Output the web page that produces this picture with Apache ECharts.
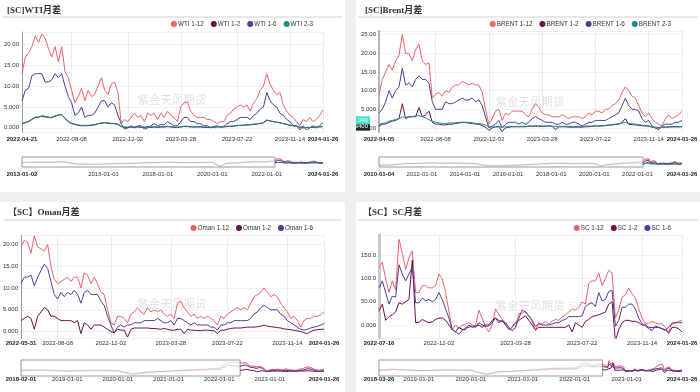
<!DOCTYPE html>
<html><head><meta charset="utf-8">
<script src="https://cdn.jsdelivr.net/npm/echarts@6/dist/echarts.min.js"></script>
<style>
html,body{margin:0;padding:0;background:#efefef;width:700px;height:392px;overflow:hidden}
.p{position:absolute;background:#fff}
</style></head><body>
<div id="c1" class="p" style="left:0;top:0;width:345px;height:192px"></div>
<div id="c2" class="p" style="left:356px;top:0;width:344px;height:192px"></div>
<div id="c3" class="p" style="left:0;top:202px;width:345px;height:190px"></div>
<div id="c4" class="p" style="left:356px;top:202px;width:344px;height:190px"></div>
<script>
// ---------------- WTI ----------------
const wtiDates = ["2022-04-21","2022-04-28","2022-05-06","2022-05-13","2022-05-20","2022-05-27","2022-06-03","2022-06-10","2022-06-17","2022-06-24",
"2022-07-01","2022-07-08","2022-07-15","2022-07-22","2022-07-29","2022-08-08","2022-08-15","2022-08-22","2022-08-29","2022-09-05",
"2022-09-12","2022-09-19","2022-09-26","2022-10-03","2022-10-10","2022-10-17","2022-10-24","2022-10-31","2022-11-07","2022-11-14",
"2022-11-21","2022-11-28","2022-12-02","2022-12-09","2022-12-16","2022-12-23","2022-12-30","2023-01-06","2023-01-13","2023-01-20",
"2023-01-27","2023-02-03","2023-02-10","2023-02-17","2023-02-24","2023-03-03","2023-03-10","2023-03-20","2023-03-28","2023-04-04",
"2023-04-11","2023-04-18","2023-04-25","2023-05-02","2023-05-09","2023-05-16","2023-05-23","2023-05-30","2023-06-06","2023-06-13",
"2023-06-20","2023-06-27","2023-07-03","2023-07-08","2023-07-15","2023-07-22","2023-07-29","2023-08-05","2023-08-12","2023-08-19",
"2023-08-26","2023-09-02","2023-09-09","2023-09-16","2023-09-23","2023-09-30","2023-10-07","2023-10-14","2023-10-21","2023-10-31",
"2023-11-07","2023-11-14","2023-11-21","2023-11-28","2023-12-05","2023-12-12","2023-12-19","2023-12-26","2024-01-02","2024-01-09",
"2024-01-16","2024-01-26"];
const wtiTicks = ["2022-04-21","2022-08-08","2022-12-02","2023-03-28","2023-07-22","2023-11-14","2024-01-26"];
const wti112 = [13,17,18,19.5,22,20.5,22.5,21.5,19,17,
19.5,15.8,19.5,13.5,12,9,6,7.5,9.5,6.5,
9,7.5,8,10,12,9,8,10.5,11,8.5,
1,2,1.5,2.5,3.5,2.5,3,1.5,3.5,3,
3.5,2,3.5,2.5,4,3,2.5,1.5,5,6,
6.2,4,3,2.5,2.5,2.5,2,2,1.5,1,
1.5,1.5,3,3.5,4.5,5,5.5,5,5.5,4,
6,7,9,10,13,10.5,9,8,8.5,5.5,
4,3,2.5,1.5,0.5,2,1.5,2.5,1.5,2,
3,4.3];
const wti12 = [1,1.2,1.5,2,2.5,2.5,2.8,2.6,2.5,2.4,
2.8,3,3.2,2.2,1.5,1,0.8,0.6,0.5,0.5,
0.5,0.6,0.7,1,1.1,1.2,1.1,1,1,0.8,
0.3,0.1,0.1,0.2,0.1,0.2,0.1,0.1,0.2,0.1,
0.2,0.1,0.2,0.2,0.3,0.2,0.1,0.1,0.2,0.3,
0.3,0.2,0.2,0.2,0.2,0.1,0.1,0.1,0.1,0.2,
0.2,0.2,0.3,0.3,0.4,0.5,0.6,0.6,0.7,0.7,
0.8,0.9,1,1.2,1.8,1.6,1.5,1.3,1.2,1,
0.8,0.6,0.5,0.4,0.1,0,0.1,0.1,0.1,0.2,
0.2,0.3];
const wti16 = [6.5,9,9.5,12.5,13,13,13,11,11,11.5,
13,12,13,10,7.5,6,3,3.5,5,2.5,
3,3,3.5,5,6.5,6.5,5,6,5.5,3,
1,-0.3,0,0.5,0,0.5,0.5,-0.3,0,0.5,
1,0.5,0.8,0.7,1.5,1,0.5,0.5,1.5,2.5,
2.5,1.5,1.5,1,1,0.5,0.5,0,0.3,0.5,
0.2,0.3,1,1.5,1.5,2,2.5,2.5,2.5,2,
3,3.5,4.5,5,8.5,6.5,5.5,5,3.5,3,
2,1.5,0.5,0.5,-0.5,0.5,-0.5,0,0.5,0,
0.5,1.2];
const wti23 = [0.9,1.3,1.6,2.1,2.6,2.6,2.9,2.8,2.6,2.5,
2.9,3.1,3.1,2.3,1.6,1.1,0.9,0.7,0.6,0.6,
0.6,0.7,0.8,1,1.2,1.3,1.2,1.1,1,0.9,
0.4,0.2,0.2,0.2,0.2,0.3,0.2,0.2,0.3,0.2,
0.3,0.2,0.3,0.3,0.3,0.3,0.2,0.2,0.3,0.4,
0.4,0.3,0.3,0.3,0.3,0.2,0.2,0.2,0.2,0.3,
0.3,0.3,0.4,0.4,0.5,0.6,0.6,0.7,0.7,0.8,
0.9,1,1.1,1.3,1.9,1.7,1.5,1.4,1.2,1,
0.9,0.7,0.5,0.4,0.2,0.1,0.1,0.1,0.2,0.2,
0.3,0.3];
const wtiHistDates = ["2013-01-02","2013-07-01","2014-01-02","2014-07-01","2015-01-02","2015-07-01","2016-01-04","2016-07-01","2017-01-03","2017-07-03","2018-01-02","2018-07-02","2019-01-02","2019-07-01","2020-01-02","2020-04-20","2020-07-01","2021-01-04","2021-07-01","2022-01-03"];
const wtiHist112 = [2,6,5,8,-6,-8,-7,-4,-3,1,3,5,2,3,4,-16,-2,2,8,8];
const wtiHist16 = [1,3,2.5,4,-4,-5,-4,-2,-1.5,0.5,2,3,1,1.5,2,-20,-1,0.5,4,5];
const wtiMiniTicks = ["2013-01-02","2016-01-01","2018-01-01","2020-01-01","2022-01-01","2024-01-26"];

// ---------------- BRENT ----------------
const brentDates = ["2022-04-05","2022-04-12","2022-04-20","2022-04-27","2022-05-05","2022-05-12","2022-05-19","2022-05-26","2022-06-02","2022-06-09",
"2022-06-17","2022-06-24","2022-07-01","2022-07-08","2022-07-15","2022-07-22","2022-07-29","2022-08-08","2022-08-15","2022-08-22",
"2022-08-29","2022-09-05","2022-09-12","2022-09-19","2022-09-26","2022-10-03","2022-10-10","2022-10-17","2022-10-24","2022-10-31",
"2022-11-07","2022-11-14","2022-11-23","2022-12-02","2022-12-09","2022-12-16","2022-12-23","2022-12-30","2023-01-06","2023-01-13",
"2023-01-20","2023-01-27","2023-02-03","2023-02-10","2023-02-17","2023-02-24","2023-03-03","2023-03-10","2023-03-20","2023-03-28",
"2023-04-04","2023-04-11","2023-04-18","2023-04-25","2023-05-02","2023-05-09","2023-05-16","2023-05-23","2023-05-30","2023-06-06",
"2023-06-13","2023-06-20","2023-06-27","2023-07-05","2023-07-14","2023-07-22","2023-07-29","2023-08-05","2023-08-12","2023-08-19",
"2023-08-26","2023-09-02","2023-09-09","2023-09-16","2023-09-23","2023-09-30","2023-10-07","2023-10-14","2023-10-21","2023-10-28",
"2023-11-07","2023-11-14","2023-11-21","2023-11-28","2023-12-05","2023-12-12","2023-12-19","2023-12-26","2024-01-02","2024-01-09",
"2024-01-16","2024-01-26"];
const brentTicks = ["2022-04-05","2022-08-08","2022-12-02","2023-03-28","2023-07-22","2023-11-14","2024-01-26"];
const brent112 = [9,13,15,17,15.5,18,19.5,25,20,20,
18,21,22.5,18,17,17.5,8,9,9.5,8.5,
10,9.5,11,11.5,11.5,12.5,12,11.5,12,11.5,
11.5,9.5,5,1,2.5,4.5,5,2,4,3.5,
4.5,4.5,4.5,4.5,3.5,3,5,6.5,5.5,4,
3.5,3.5,3,3,3,3.5,3,2.5,3,3,
3,2.5,3,4,3.5,4.5,4.5,4,5,5,
6,6.5,7.5,9.5,11,10,8.5,8,6,4,
3,4,2.5,1.5,1,0.5,2.5,3.5,2.5,3,
3.5,4.5];
const brent12 = [0.5,1,1,1.5,1.8,2,2.5,6.5,2.5,3,
3,3,5.5,3,3.5,4.5,1.5,1,1,0.8,
0.8,1,1,1.2,1.3,1.5,1.4,1.3,1.2,1,
1,0.6,0.2,-0.7,0,0.3,0.3,-1,0,0.2,
0.3,0.3,0.3,0.3,0.3,0.4,0.5,0.5,0.5,0.4,
0.4,0.5,0.4,-0.5,0.3,0.3,0.3,0.2,0.2,0.2,
0.2,0.2,0.3,0.3,0.4,0.5,0.5,0.5,0.6,0.7,
0.8,0.9,1,1.5,2.5,1,0.9,0.8,0.7,0.6,
0.5,0.5,0.2,0,0,0.2,0.2,0.3,0.3,0.3,
0.3,0.34];
const brent16 = [4,5,7,10,8,10,11,16,11.5,12,
11,13,14,13,13,12,7,5,5,5,
7,6.5,6.5,7,7.5,8,7.5,7.5,8,7,
7.5,6,3,0,0.5,1,2,0,1,1.5,
1.5,1.5,1,1.5,1,1.5,2.5,3,2.5,2,
1.5,1.5,1.5,1,1,1.5,1,1,1.5,1.5,
1,0.5,1,1.5,1.5,2,2,2,2,2.5,
3,3.5,4,6,8,6,5,5,4.5,2.5,
1.5,2,0.5,0,-0.5,0.5,1,1,1,1.5,
1.5,2.04];
const brent23 = [1,1.2,1.4,1.8,2,2.3,2.5,3,2.8,3,
3,3.2,3.3,3,2.7,2.2,1.8,1.5,1.4,1.2,
1.2,1.3,1.3,1.4,1.5,1.5,1.5,1.5,1.4,1.2,
1.2,1,0.8,0.3,0.2,0.3,0.3,0.2,0.3,0.3,
0.4,0.4,0.4,0.4,0.4,0.5,0.5,0.5,0.5,0.5,
0.5,0.5,0.5,0.4,0.4,0.4,0.4,0.4,0.4,0.4,
0.4,0.4,0.5,0.5,0.5,0.6,0.6,0.6,0.7,0.8,
0.9,1,1.1,1.3,1.5,1.2,1.1,1,0.9,0.7,
0.6,0.5,0.3,0.2,0.1,0.2,0.2,0.2,0.3,0.3,
0.3,0.3];
const brentHistDates = ["2010-01-04","2010-07-01","2011-01-04","2011-07-01","2012-01-03","2012-07-02","2013-01-02","2013-07-01","2014-01-02","2014-07-01","2015-01-02","2015-07-01","2016-01-04","2016-07-01","2017-01-03","2017-07-03","2018-01-02","2018-07-02","2019-01-02","2019-07-01","2020-01-02","2020-04-20","2020-07-01","2021-01-04","2021-07-01","2022-01-03"];
const brentHist112 = [-5,-4,0,3,4,6,4,5,4,2,-6,-7,-6,-4,-2,1,4,4,2,4,3,-9,-3,1,5,8];
const brentHist16 = [-2.5,-2,0.5,2,2.5,3.5,2,3,2,1,-3.5,-4,-3.5,-2.5,-1,0.5,2,2.5,1,2,1.5,-6,-2,0.5,3,4.5];
const brentMiniTicks = ["2010-01-04","2012-01-01","2014-01-01","2016-01-01","2018-01-01","2020-01-01","2022-01-01","2024-01-26"];

// ---------------- OMAN ----------------
const omanDates = ["2022-05-31","2022-06-06","2022-06-13","2022-06-20","2022-06-27","2022-07-04","2022-07-11","2022-07-15","2022-07-21","2022-07-27",
"2022-08-02","2022-08-08","2022-08-15","2022-08-22","2022-08-29","2022-09-05","2022-09-12","2022-09-19","2022-09-26","2022-10-03",
"2022-10-10","2022-10-17","2022-10-24","2022-10-31","2022-11-07","2022-11-14","2022-11-23","2022-12-02","2022-12-08","2022-12-14",
"2022-12-20","2022-12-27","2023-01-03","2023-01-09","2023-01-16","2023-01-23","2023-01-30","2023-02-06","2023-02-13","2023-02-20",
"2023-02-27","2023-03-06","2023-03-10","2023-03-16","2023-03-22","2023-03-28","2023-04-04","2023-04-11","2023-04-18","2023-04-25",
"2023-05-02","2023-05-09","2023-05-16","2023-05-23","2023-05-30","2023-06-06","2023-06-13","2023-06-20","2023-06-27","2023-07-03",
"2023-07-10","2023-07-17","2023-07-22","2023-07-28","2023-08-03","2023-08-09","2023-08-15","2023-08-21","2023-08-28","2023-09-04",
"2023-09-11","2023-09-18","2023-09-25","2023-10-02","2023-10-09","2023-10-16","2023-10-23","2023-10-30","2023-11-03","2023-11-09",
"2023-11-14","2023-11-21","2023-11-28","2023-12-05","2023-12-12","2023-12-19","2023-12-26","2024-01-02","2024-01-08","2024-01-12",
"2024-01-19","2024-01-26"];
const omanTicks = ["2022-05-31","2022-08-08","2022-12-02","2023-03-28","2023-07-22","2023-11-14","2024-01-26"];
const oman112 = [19.5,21,20.5,18,22,19.5,19,18.5,20,15,
12,11,11.5,12,12.5,11.5,12.5,12.5,10,13.5,
13,11,12.5,11,9,8.5,5,2,1.5,3.5,
3.5,3,2,4,4.5,5.5,4.5,4,5.5,4.5,
5,4.5,5,4,3.5,4,3,6.5,7,5.5,
4.5,3.5,4,3,3.5,3,3.5,3,2.5,1.5,
3.5,3,4,4.5,5,5.5,5,5.5,5,6.5,
8,8.5,9,10,9,8,8.5,8,6.5,5.5,
4.5,3,3.5,2.5,1,2.5,3,3,3.5,3.5,
3.8,4.5];
const oman12 = [2.5,3,3.5,3,0.5,3.5,4.5,5.5,5,3.5,
3.5,3,2.5,2.5,2.5,2.5,2,2.5,-0.5,2,
1.5,0.5,1.5,1.5,1.5,1,0.5,0,-0.3,0.5,
0.3,0.3,-1.3,0.5,0.8,0.8,0.8,0.8,0.8,0.7,
0.7,0.6,0.5,0.7,0.5,0.3,0.3,0.5,0.5,-0.5,
0.5,0.3,0.3,0.2,0.2,0.3,0.3,0.2,0.2,-0.5,
0.3,0.3,0.5,0.7,0.8,0.8,0.8,0.9,1,1,
1,1.1,1.2,1.5,1.2,1.1,1,0.9,0.8,0.6,
0.5,0.4,0.3,0.1,0,-0.3,-0.5,0,0.3,0.4,
0.5,0.5];
const oman16 = [11,12.5,12.5,13,10.5,12.5,14,15.5,14.5,11.5,
8.5,7.5,9,8,9,8.5,9.5,8.5,6.5,9,
9.5,8.5,8.5,8.5,7,6,3.5,1.5,-0.3,1,
1.5,1,1.5,1.5,2,2,2,2.5,2.5,2.5,
2.5,3,2.5,2,2,2.5,1.5,3,3,2.5,
2,1.5,2,1.5,1.5,1.5,1.5,1,1,0.3,
1.5,1.5,2,2,2.5,2.5,2.5,2.5,2.5,3,
4,4.5,5.5,6,5.5,5,5,5,4,3.5,
2.5,2,1.5,1,0.5,0.3,0.5,0.8,1,1.2,
1.5,1.8];
const omanHistDates = ["2018-02-01","2018-07-02","2019-01-02","2019-07-01","2020-01-02","2020-04-20","2020-07-01","2021-01-04","2021-07-01","2022-01-03","2022-03-08"];
const omanHist112 = [3,4,1,3,2,-8,-3,1,4,7,20];
const omanHist16 = [1.5,2,0.5,1.5,1,-5,-2,0.5,2.5,4,14];
const omanMiniTicks = ["2018-02-01","2019-01-01","2020-01-01","2021-01-01","2022-01-01","2023-01-01","2024-01-26"];

// ---------------- SC ----------------
const scDates = ["2022-07-16","2022-07-25","2022-08-01","2022-08-08","2022-08-15","2022-08-22","2022-08-29","2022-09-05","2022-09-13","2022-09-20",
"2022-09-27","2022-10-11","2022-10-18","2022-10-25","2022-11-01","2022-11-08","2022-11-15","2022-11-24","2022-12-02","2022-12-07",
"2022-12-12","2022-12-16","2022-12-21","2022-12-26","2022-12-30","2023-01-05","2023-01-10","2023-01-16","2023-01-20","2023-01-30",
"2023-02-03","2023-02-08","2023-02-13","2023-02-17","2023-02-22","2023-02-27","2023-03-03","2023-03-08","2023-03-13","2023-03-17",
"2023-03-22","2023-03-28","2023-04-03","2023-04-10","2023-04-14","2023-04-20","2023-04-26","2023-05-04","2023-05-10","2023-05-16",
"2023-05-22","2023-05-26","2023-06-01","2023-06-07","2023-06-13","2023-06-19","2023-06-26","2023-06-30","2023-07-06","2023-07-12",
"2023-07-18","2023-07-22","2023-07-28","2023-08-03","2023-08-09","2023-08-15","2023-08-21","2023-08-28","2023-09-04","2023-09-11",
"2023-09-18","2023-09-25","2023-10-09","2023-10-13","2023-10-19","2023-10-25","2023-10-31","2023-11-03","2023-11-09","2023-11-14",
"2023-11-20","2023-11-24","2023-11-30","2023-12-06","2023-12-12","2023-12-18","2023-12-22","2023-12-28","2024-01-04","2024-01-10",
"2024-01-18","2024-01-26"];
const scTicks = ["2022-07-16","2022-12-02","2023-03-28","2023-07-22","2023-11-14","2024-01-26"];
const sc112 = [125,135,100,70,95,75,185,155,120,145,
160,70,70,85,85,80,80,85,110,100,
70,30,-10,0,-8,0,2,5,0,-2,
32,15,-5,-15,0,35,22,12,5,-5,
-12,-5,25,25,30,18,8,-12,5,2,
8,2,8,12,10,18,22,28,35,32,
38,50,45,90,95,95,112,85,100,118,
112,15,32,60,65,80,68,58,35,15,
2,3,8,5,2,3,-5,-15,5,5,
8,10];
const sc12 = [30,45,10,18,22,28,48,45,50,55,
140,5,6,12,8,5,7,12,15,15,
10,0,-10,-15,-5,-10,-10,0,-5,-3,
0,-5,0,0,10,15,5,10,0,-10,
-5,5,10,15,20,10,0,-10,-5,-5,
-5,-5,-5,-5,-5,-5,-5,0,-15,5,
0,-5,8,12,18,20,22,25,28,45,
50,-35,-10,5,10,10,8,8,5,0,
0,-5,-5,-5,-5,-8,-10,-18,-5,-5,
-8,-15];
const sc16 = [80,95,70,45,62,60,130,110,95,110,
125,48,48,58,52,55,50,55,70,55,
35,15,-10,-15,-20,-12,-6,-5,-2,-5,
5,0,-3,-2,5,15,10,8,5,-5,
-12,-5,15,32,28,20,10,-3,3,0,
0,0,2,5,5,10,12,18,18,18,
18,20,40,45,48,40,70,52,55,72,
75,-3,10,38,38,45,45,35,15,3,
-2,-8,-12,-2,-5,-8,-12,-4,2,5,
5,5];
const scHistDates = ["2018-03-26","2018-07-02","2019-01-02","2019-07-01","2020-01-02","2020-04-20","2020-07-01","2021-01-04","2021-07-01","2022-01-04","2022-03-08","2022-05-05"];
const scHist112 = [10,30,0,15,10,-80,-30,0,40,50,150,90];
const scHist16 = [5,20,0,10,5,-60,-20,0,25,30,100,70];
const scMiniTicks = ["2018-03-26","2019-01-01","2020-01-01","2021-01-01","2022-01-01","2023-01-01","2024-01-26"];

// ---------------- builder ----------------
const C = {r:'#f0616a', m:'#6e0e4b', b:'#4c3d9a', t:'#1a8c8c'};
const FADE = {r:'rgba(240,97,106,0.35)', b:'rgba(110,130,190,0.35)'};
const FONT = '"Liberation Sans", Arial, sans-serif';
const ts = d => Date.parse(d + 'T00:00:00Z');
const ds = v => new Date(v).toISOString().slice(0, 10);

function build(id, cfg) {
  const el = document.getElementById(id);
  const chart = echarts.init(el, null, {renderer:'canvas'});
  const last = cfg.dates.length - 1;
  const isTick = (i, v) => cfg.ticks.indexOf(v) >= 0;
  const pairs = (dd, vs) => dd.map((d, i) => [ts(d), vs[i]]);
  const series = [];
  cfg.series.forEach(s => {
    const o = {name:s.name, type:'line', xAxisIndex:0, yAxisIndex:0, data:s.data, symbol:'none',
      lineStyle:{width:1, color:s.color}, itemStyle:{color:s.color}, z:2};
    if (s.tag) {
      const v = s.data[s.data.length-1];
      o.clip = false;
      o.markLine = {symbol:['none','none'], silent:true, animation:false, z:10, precision:4,
        lineStyle:{color:'rgba(0,0,0,0)', width:1, type:'solid'},
        label:{show:true, position:'start', distance:9, formatter: s.tag.fmt(v), backgroundColor:s.tag.bg,
          color:'#fff', fontSize:6, padding:[1,2], fontFamily:FONT, opacity:1},
        emphasis:{disabled:true},
        data:[{yAxis:v, name:'tag'}]};
    }
    series.push(o);
  });
  cfg.hist.forEach((h, k) => {
    const o = {name:'_h'+k, type:'line', xAxisIndex:1, yAxisIndex:1, symbol:'none', silent:true,
      data: pairs(cfg.histDates, h.data).concat(pairs(cfg.dates, h.recent)),
      lineStyle:{width:1, color:h.color}, z:1};
    if (k === 0) {
      o.markArea = {silent:true, animation:false,
        itemStyle:{color:'rgba(255,255,255,0)', borderColor:'#9a9a9a', borderWidth:1},
        data:[[{xAxis:ts(cfg.histDates[0])}, {xAxis:ts(cfg.dates[0])}]]};
    }
    series.push(o);
  });
  cfg.series.forEach((s, k) => series.push({name:'_m'+k, type:'line', xAxisIndex:1, yAxisIndex:1,
    symbol:'none', silent:true, data:pairs(cfg.dates, s.data), lineStyle:{width:1, color:s.color}, z:2}));

  const mt = cfg.miniTicks;
  chart.setOption({
    animation:false,
    textStyle:{fontFamily:FONT},
    title:{text:cfg.title, left:cfg.titleX, top:cfg.titleY, padding:0,
      textStyle:{fontFamily:'"Liberation Serif","Noto Sans CJK SC",serif', fontWeight:'bold', fontSize:9, color:'#333'}},
    legend:{data:cfg.series.map(s => s.name), right:cfg.legendRight, top:cfg.legendTop, icon:'circle',
      itemWidth:6, itemHeight:6, itemGap:7, padding:0,
      textStyle:{fontSize:6.3, color:'#333', fontFamily:FONT, padding:[0,0,0,-4]}},
    graphic:[
      {type:'line', shape:{x1:cfg.sep[0], y1:cfg.sep[2], x2:cfg.sep[1], y2:cfg.sep[2]}, style:{stroke:'#d0d0d0', lineWidth:1}, silent:true},
      {type:'text', x:cfg.wm[0], y:cfg.wm[1], z:0, silent:true,
        style:{text:'紫金天风期货', fill:'rgba(0,0,0,0.13)', font:'11.5px "Noto Sans CJK SC"', align:'center', verticalAlign:'middle'}}
    ],
    grid:[
      {left:cfg.g.left, right:cfg.g.right, top:cfg.g.top, height:cfg.g.h, outerBoundsMode:'none', containLabel:false},
      {left:cfg.g.left, right:cfg.g.right, top:cfg.mini.top, height:cfg.mini.h, outerBoundsMode:'none', containLabel:false}
    ],
    xAxis:[
      {type:'category', gridIndex:0, data:cfg.dates, boundaryGap:false,
        axisLine:{show:false}, axisTick:{show:false},
        axisLabel:{interval:isTick, hideOverlap:false, fontSize:6, color:'#333', margin:cfg.xMargin,
          formatter:(v, i) => (i === 0 || i === last) ? '{b|' + v + '}' : v,
          rich:{b:{fontWeight:'bold', fontSize:6, color:'#222', fontFamily:FONT}}},
        splitLine:{show:true, interval:isTick, lineStyle:{color:'#ebebeb', width:1}}},
      {type:'value', gridIndex:1, min:ts(mt[0]), max:ts(mt[mt.length-1]),
        axisLine:{show:false}, axisTick:{show:false}, splitLine:{show:false},
        axisLabel:{customValues:mt.map(ts), hideOverlap:false, fontSize:6, color:'#333', margin:cfg.miniMargin,
          showMinLabel:true, showMaxLabel:true,
          formatter:(v) => {
            const s = ds(v);
            return (s === mt[0] || s === mt[mt.length-1]) ? '{b|' + s + '}' : s;
          },
          rich:{b:{fontWeight:'bold', fontSize:6, color:'#222', fontFamily:FONT}}}}
    ],
    yAxis:[
      {type:'value', gridIndex:0, min:cfg.yMin, max:cfg.yMax,
        axisLine:{show:true, lineStyle:{color:cfg.yAxisColor, width:cfg.yAxisW}}, axisTick:{show:false},
        axisLabel:{fontSize:6, color:'#333', margin:3, showMinLabel:false, showMaxLabel:false,
          formatter:(v) => v.toPrecision(4)},
        splitLine:{lineStyle:{color:'#f0f0f0', width:1}}},
      {type:'value', gridIndex:1, scale:true, show:false, splitLine:{show:false}}
    ],
    series:series
  });
}

const f4p = v => v.toPrecision(4);
const f4f = v => v.toFixed(4);

build('c1', {
  title:'[SC]WTI月差', titleX:7, titleY:6, sep:[3,342,17], wm:[172,100],
  legendRight:32, legendTop:21,
  g:{left:22, right:22, top:32, h:100}, mini:{top:157, h:10}, xMargin:4, miniMargin:4,
  yMin:-1, yMax:23, yAxisColor:'#999', yAxisW:1,
  dates:wtiDates, ticks:wtiTicks, histDates:wtiHistDates, miniTicks:wtiMiniTicks,
  series:[{name:'WTI 1-12', data:wti112, color:C.r},{name:'WTI 1-2', data:wti12, color:C.m},
          {name:'WTI 1-6', data:wti16, color:C.b},{name:'WTI 2-3', data:wti23, color:C.t}],
  hist:[{data:wtiHist112, recent:wti112, color:FADE.r},{data:wtiHist16, recent:wti16, color:FADE.b}]
});
build('c2', {
  title:'[SC]Brent月差', titleX:9, titleY:6, sep:[2,342,17], wm:[174,102],
  legendRight:29, legendTop:21,
  g:{left:23, right:18, top:31, h:101}, mini:{top:157, h:10}, xMargin:4, miniMargin:4,
  yMin:-1.1, yMax:26, yAxisColor:'#b5b5b5', yAxisW:2,
  dates:brentDates, ticks:brentTicks, histDates:brentHistDates, miniTicks:brentMiniTicks,
  series:[{name:'BRENT 1-12', data:brent112, color:C.r},
          {name:'BRENT 1-2', data:brent12, color:C.m, tag:{bg:'#222', fmt:f4f}},
          {name:'BRENT 1-6', data:brent16, color:C.b, tag:{bg:'#3fe3c6', fmt:f4p}},
          {name:'BRENT 2-3', data:brent23, color:C.t}],
  hist:[{data:brentHist112, recent:brent112, color:FADE.r},{data:brentHist16, recent:brent16, color:FADE.b}]
});
build('c3', {
  title:'【SC】Oman月差', titleX:8, titleY:6, sep:[4,341,18], wm:[172,102],
  legendRight:32, legendTop:23,
  g:{left:21, right:21, top:33, h:103}, mini:{top:158, h:16}, xMargin:2, miniMargin:0,
  yMin:-1.5, yMax:22.2, yAxisColor:'#999', yAxisW:1,
  dates:omanDates, ticks:omanTicks, histDates:omanHistDates, miniTicks:omanMiniTicks,
  series:[{name:'Oman 1-12', data:oman112, color:C.r},{name:'Oman 1-2', data:oman12, color:C.m},
          {name:'Oman 1-6', data:oman16, color:C.b}],
  hist:[{data:omanHist112, recent:oman112, color:FADE.r},{data:omanHist16, recent:oman16, color:FADE.b}]
});
build('c4', {
  title:'【SC】SC月差', titleX:7, titleY:6, sep:[2,342,18], wm:[174,104],
  legendRight:29, legendTop:23,
  g:{left:23, right:18, top:33, h:103}, mini:{top:158, h:16}, xMargin:2, miniMargin:0,
  yMin:-28, yMax:194, yAxisColor:'#c8c8c8', yAxisW:3,
  dates:scDates, ticks:scTicks, histDates:scHistDates, miniTicks:scMiniTicks,
  series:[{name:'SC 1-12', data:sc112, color:C.r},{name:'SC 1-2', data:sc12, color:C.m},
          {name:'SC 1-6', data:sc16, color:C.b}],
  hist:[{data:scHist112, recent:sc112, color:FADE.r},{data:scHist16, recent:sc16, color:FADE.b}]
});
</script>
</body></html>
